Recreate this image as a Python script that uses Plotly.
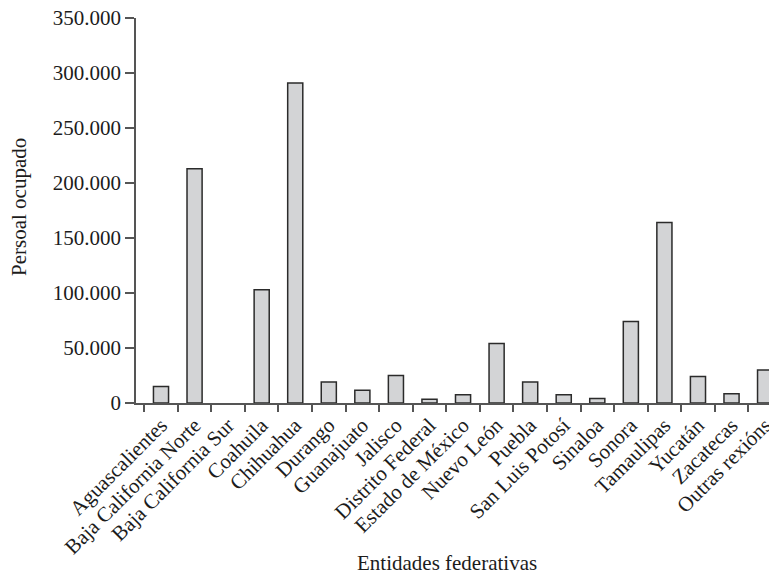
import plotly.graph_objects as go

categories = ["Aguascalientes", "Baja California Norte", "Baja California Sur", "Coahuila",
              "Chihuahua", "Durango", "Guanajuato", "Jalisco", "Distrito Federal",
              "Estado de México", "Nuevo León", "Puebla", "San Luis Potosí", "Sinaloa",
              "Sonora", "Tamaulipas", "Yucatán", "Zacatecas", "Outras rexións"]
values = [15000, 213000, 0, 103000, 291000, 19000, 11500, 25000, 3500,
          7500, 54000, 19000, 7500, 4000, 74000, 164000, 24000, 8500, 30000]
y_ticks = [0, 50000, 100000, 150000, 200000, 250000, 300000, 350000]

FONT = "Liberation Serif"
FS = 21
TXT = "#1c1c1c"
AX = "#555555"

# page body has an 8px default margin; compensate so plot lands where the reference has it
OFF = 8
W, H = 777, 575
x_left, x_right, y_top, y_zero = 136 - OFF, 777 - OFF, 18 - OFF, 403 - OFF

fig = go.Figure(go.Bar(
    x=categories, y=values,
    marker=dict(color="#d3d4d6",
                line=dict(color="#2b2b2b", width=[1.5 if v > 0 else 0 for v in values])),
    width=0.45,
))

L, R, T, B = x_left, W - x_right, y_top, H - y_zero
fig.update_layout(
    width=W, height=H,
    margin=dict(l=L, r=R, t=T, b=B, pad=0, autoexpand=False),
    paper_bgcolor="white", plot_bgcolor="white",
    separators=",.",
    font=dict(family=FONT, size=FS, color=TXT),
    showlegend=False,
)
fig.update_xaxes(
    type="category", automargin=False,
    range=[-0.745, 18.355],
    showline=True, linecolor=AX, linewidth=1.5,
    ticks="outside", tickson="boundaries", ticklen=7, tickwidth=1.5, tickcolor=AX,
    tickangle=-45, showgrid=False, zeroline=False, ticklabeloverflow="allow",
    tickfont=dict(family=FONT, size=FS, color=TXT),
)
fig.update_yaxes(
    automargin=False,
    range=[0, 350000], tickvals=y_ticks, tickformat=",d",
    showline=True, linecolor=AX, linewidth=1.5,
    ticks="outside", ticklen=9, tickwidth=1.5, tickcolor=AX,
    showgrid=False, zeroline=False, ticklabeloverflow="allow",
    tickfont=dict(family=FONT, size=FS, color=TXT),
)
plot_w = W - L - R
plot_h = H - T - B
fig.add_annotation(text="Entidades federativas", xref="paper", yref="paper",
                   x=(447 - OFF - L) / plot_w, y=(y_zero - (563 - OFF)) / plot_h,
                   xanchor="center", yanchor="middle", showarrow=False,
                   font=dict(family=FONT, size=FS, color=TXT))
fig.add_annotation(text="Persoal ocupado", xref="paper", yref="paper",
                   x=(19 - OFF - L) / plot_w, y=(y_zero - (207 - OFF)) / plot_h, textangle=-90,
                   xanchor="center", yanchor="middle", showarrow=False,
                   font=dict(family=FONT, size=FS, color=TXT))

fig.write_html("out.html")
